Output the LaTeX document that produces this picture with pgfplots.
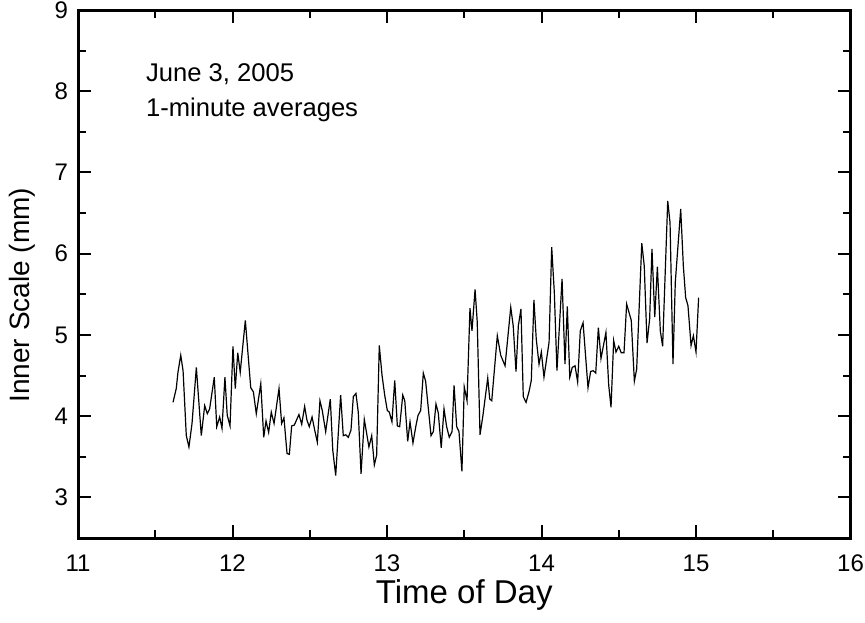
\documentclass[border=0pt]{standalone}
\usepackage{pgfplots}
\pgfplotsset{compat=1.18}
\usepackage{fontspec}
\setmainfont{Liberation Sans}
\begin{document}
\begin{tikzpicture}
\begin{axis}[
 at={(0,0)}, anchor=south west,
 scale only axis, width=386.25pt, height=264pt,
 xmin=11, xmax=16, ymin=2.5, ymax=9,
 xtick={11,12,13,14,15,16}, ytick={3,4,5,6,7,8,9},
 minor xtick={11.5,12.5,13.5,14.5,15.5},
 minor ytick={2.5,3.5,4.5,5.5,6.5,7.5,8.5},
 tick align=inside,
 major tick length=6.5pt, minor tick length=4pt,
 every tick/.style={black, line width=1pt},
 axis line style={line width=1.5pt},
 /pgf/number format/assume math mode=true,
 tick label style={font=\fontsize{12}{14}\selectfont},
 xticklabel style={yshift=-5pt},
 yticklabel style={xshift=-1.5pt},
 xlabel={Time of Day}, ylabel={Inner Scale (mm)},
 every axis x label/.style={at={(axis description cs:0.5,-0.108)}, anchor=center, font=\fontsize{16.5}{19}\selectfont},
 every axis y label/.style={at={(axis description cs:-0.0725,0.46)}, rotate=90, anchor=center, font=\fontsize{14}{16}\selectfont},
]
\addplot[black, line width=0.6pt] coordinates {
(11.615,4.17) (11.636,4.34) (11.647,4.54) (11.665,4.75) (11.680,4.56)
(11.701,3.76) (11.718,3.62) (11.738,3.91) (11.766,4.60) (11.798,3.76)
(11.820,4.13) (11.837,4.03) (11.852,4.09) (11.882,4.48) (11.898,3.87)
(11.917,3.99) (11.932,3.85) (11.951,4.48) (11.966,4.01) (11.984,3.88)
(12.003,4.86) (12.018,4.34) (12.034,4.78) (12.050,4.54) (12.083,5.18)
(12.118,4.35) (12.135,4.30) (12.154,4.03) (12.183,4.40) (12.202,3.74)
(12.217,3.94) (12.234,3.80) (12.251,4.05) (12.269,3.91) (12.301,4.34)
(12.318,3.91) (12.333,3.98) (12.353,3.54) (12.368,3.53) (12.383,3.88)
(12.400,3.89) (12.430,4.02) (12.448,3.90) (12.467,4.12) (12.482,3.95)
(12.497,3.87) (12.515,3.99) (12.534,3.81) (12.549,3.68) (12.566,4.19)
(12.581,4.07) (12.603,3.81) (12.633,4.21) (12.649,3.58) (12.668,3.27)
(12.700,4.26) (12.717,3.76) (12.733,3.77) (12.750,3.74) (12.767,3.83)
(12.782,4.24) (12.799,4.28) (12.814,4.05) (12.832,3.29) (12.853,3.96)
(12.883,3.62) (12.901,3.76) (12.918,3.40) (12.933,3.52) (12.950,4.87)
(12.968,4.50) (12.985,4.26) (13.002,4.07) (13.015,4.05) (13.032,3.93)
(13.050,4.44) (13.067,3.88) (13.082,3.87) (13.102,4.26) (13.115,4.19)
(13.134,3.69) (13.149,3.93) (13.168,3.67) (13.188,3.89) (13.201,4.01)
(13.218,4.07) (13.235,4.53) (13.250,4.43) (13.285,3.76) (13.300,3.81)
(13.317,4.15) (13.332,4.04) (13.351,3.61) (13.369,4.09) (13.386,3.87)
(13.403,3.74) (13.421,3.81) (13.434,4.38) (13.451,3.87) (13.466,3.81)
(13.485,3.32) (13.500,4.36) (13.518,4.19) (13.537,5.33) (13.550,5.05)
(13.570,5.56) (13.584,5.16) (13.602,3.77) (13.621,4.01) (13.652,4.47)
(13.665,4.21) (13.678,4.19) (13.714,4.99) (13.736,4.75) (13.764,4.62)
(13.801,5.34) (13.817,5.11) (13.835,4.55) (13.850,5.11) (13.867,5.32)
(13.882,4.24) (13.900,4.17) (13.919,4.30) (13.934,4.44) (13.951,5.43)
(13.966,4.95) (13.984,4.64) (13.999,4.79) (14.016,4.48) (14.049,4.91)
(14.066,6.08) (14.083,5.52) (14.100,4.56) (14.133,5.69) (14.152,4.64)
(14.167,5.35) (14.183,4.48) (14.199,4.60) (14.217,4.62) (14.234,4.42)
(14.251,5.05) (14.269,5.15) (14.301,4.35) (14.318,4.55) (14.335,4.56)
(14.351,4.53) (14.368,5.09) (14.385,4.71) (14.417,5.03) (14.435,4.38)
(14.450,4.11) (14.467,4.93) (14.482,4.79) (14.500,4.86) (14.516,4.78)
(14.534,4.78) (14.551,5.38) (14.581,5.18) (14.601,4.43) (14.616,4.58)
(14.649,6.13) (14.665,5.85) (14.683,4.90) (14.700,5.20) (14.715,6.06)
(14.733,5.22) (14.750,5.84) (14.769,5.05) (14.784,4.86) (14.817,6.65)
(14.832,6.38) (14.851,4.64) (14.866,5.65) (14.901,6.55) (14.918,5.85)
(14.933,5.46) (14.948,5.36) (14.968,4.87) (14.983,4.99) (15.000,4.79)
(15.017,5.46)
};
\node[anchor=base west, inner sep=0pt, font=\fontsize{12.8}{15}\selectfont] at (axis cs:11.438,8.117) {June 3, 2005};
\node[anchor=base west, inner sep=0pt, font=\fontsize{12.8}{15}\selectfont] at (axis cs:11.438,7.687) {1-minute averages};
\end{axis}
\pgfresetboundingbox
\useasboundingbox (-39pt,-42pt) rectangle (393.5pt,269pt);
\end{tikzpicture}
\end{document}
